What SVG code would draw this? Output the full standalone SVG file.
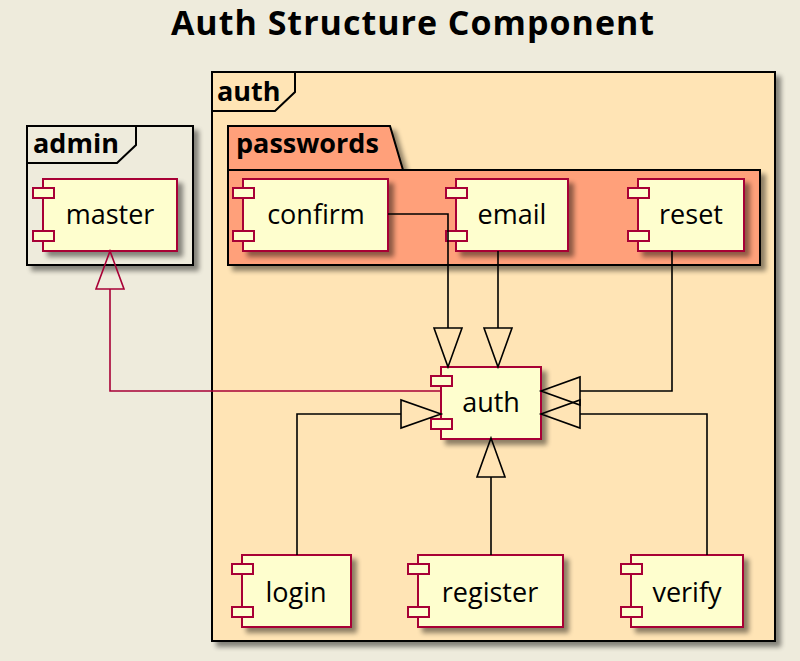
<svg xmlns="http://www.w3.org/2000/svg" width="800" height="661" viewBox="0 0 800 661">
<defs>
<filter id="sh" x="-10%" y="-10%" width="130%" height="130%">
<feGaussianBlur in="SourceAlpha" stdDeviation="2.5"/>
<feOffset dx="5" dy="5" result="b"/>
<feComponentTransfer><feFuncA type="linear" slope="0.45"/></feComponentTransfer>
<feMerge><feMergeNode/><feMergeNode in="SourceGraphic"/></feMerge>
</filter>
</defs>
<style>
.frame{stroke:#000;stroke-width:2;}
.comp{fill:#FEFECE;stroke:#A80036;stroke-width:2;}
.port{fill:#FEFECE;stroke:#A80036;stroke-width:2;}
.lbl{font-family:"Open Sans","Liberation Sans",sans-serif;font-size:27px;fill:#000;}
.flbl{font-family:"Open Sans","Liberation Sans",sans-serif;font-size:27px;font-weight:bold;fill:#000;}
.edge{fill:none;stroke:#000;stroke-width:1.6;}
.head{fill:none;stroke:#000;stroke-width:1.6;stroke-linejoin:miter;}
.red{fill:none;stroke:#A80036;stroke-width:1.6;}
</style>
<rect width="800" height="661" fill="#EEEBDC"/>
<text x="413" y="35" text-anchor="middle" letter-spacing="1" font-family="'Open Sans','Liberation Sans',sans-serif" font-size="34" font-weight="bold">Auth Structure Component</text>

<g id="frame-auth">
<rect class="frame" x="212" y="72" width="563" height="569" fill="#FFE4B5" filter="url(#sh)"/>
<path class="frame" d="M212,111 H275 L295,92 V72" fill="none"/>
<text class="flbl" x="217" y="101">auth</text>
</g>

<g id="package-passwords">
<path class="frame" d="M228,265 V126 H390 L403,170 H760 V265 Z" fill="#FFA07A" filter="url(#sh)"/>
<path class="frame" d="M228,170 H403" fill="none"/>
<text class="flbl" x="236" y="153">passwords</text>
</g>

<g id="frame-admin">
<rect class="frame" x="27" y="126" width="166" height="139" fill="#EEEBDC" filter="url(#sh)"/>
<path class="frame" d="M27,163 H117 L136,145 V126" fill="none"/>
<text class="flbl" x="33" y="153">admin</text>
</g>

<g id="master">
<rect class="comp" x="43" y="179" width="134" height="72" filter="url(#sh)"/>
<rect class="port" x="33" y="188" width="21" height="10"/>
<rect class="port" x="33" y="231" width="21" height="10"/>
<text class="lbl" x="110" y="224" text-anchor="middle">master</text>
</g>

<g id="confirm">
<rect class="comp" x="243" y="179" width="145" height="72" filter="url(#sh)"/>
<rect class="port" x="233" y="188" width="21" height="10"/>
<rect class="port" x="233" y="231" width="21" height="10"/>
<text class="lbl" x="316" y="224" text-anchor="middle">confirm</text>
</g>

<g id="email">
<rect class="comp" x="456" y="179" width="112" height="72" filter="url(#sh)"/>
<rect class="port" x="446" y="188" width="21" height="10"/>
<rect class="port" x="446" y="231" width="21" height="10"/>
<text class="lbl" x="512" y="224" text-anchor="middle">email</text>
</g>

<g id="reset">
<rect class="comp" x="638" y="179" width="106" height="72" filter="url(#sh)"/>
<rect class="port" x="628" y="188" width="21" height="10"/>
<rect class="port" x="628" y="231" width="21" height="10"/>
<text class="lbl" x="691" y="224" text-anchor="middle">reset</text>
</g>

<g id="auth">
<rect class="comp" x="441" y="367" width="100" height="72" filter="url(#sh)"/>
<rect class="port" x="431" y="376" width="21" height="10"/>
<rect class="port" x="431" y="419" width="21" height="10"/>
<text class="lbl" x="491" y="412" text-anchor="middle">auth</text>
</g>

<g id="login">
<rect class="comp" x="242" y="555" width="109" height="72" filter="url(#sh)"/>
<rect class="port" x="232" y="564" width="21" height="10"/>
<rect class="port" x="232" y="607" width="21" height="10"/>
<text class="lbl" x="296" y="602" text-anchor="middle">login</text>
</g>

<g id="register">
<rect class="comp" x="418" y="555" width="145" height="72" filter="url(#sh)"/>
<rect class="port" x="408" y="564" width="21" height="10"/>
<rect class="port" x="408" y="607" width="21" height="10"/>
<text class="lbl" x="490" y="602" text-anchor="middle">register</text>
</g>

<g id="verify">
<rect class="comp" x="631" y="555" width="112" height="72" filter="url(#sh)"/>
<rect class="port" x="621" y="564" width="21" height="10"/>
<rect class="port" x="621" y="607" width="21" height="10"/>
<text class="lbl" x="687" y="602" text-anchor="middle">verify</text>
</g>

<g id="connectors">
<path class="edge" d="M388,214 H448 V328"/>
<path class="head" d="M448,367 L434,328 H462 Z"/>
<path class="edge" d="M498,251 V328"/>
<path class="head" d="M498,367 L484,328 H512 Z"/>
<path class="edge" d="M672,251 V391 H580"/>
<path class="head" d="M541,391 L580,377 V405 Z"/>
<path class="edge" d="M707,555 V414 H580"/>
<path class="head" d="M541,414 L580,400 V428 Z"/>
<path class="edge" d="M297,555 V414 H401"/>
<path class="head" d="M441,414 L401,400 V428 Z"/>
<path class="edge" d="M491,555 V477"/>
<path class="head" d="M491,438 L477,477 H505 Z"/>
<path class="red" d="M441,391 H110 V289"/>
<path class="red" d="M110,251 L96,289 H124 Z"/>
</g>
</svg>
